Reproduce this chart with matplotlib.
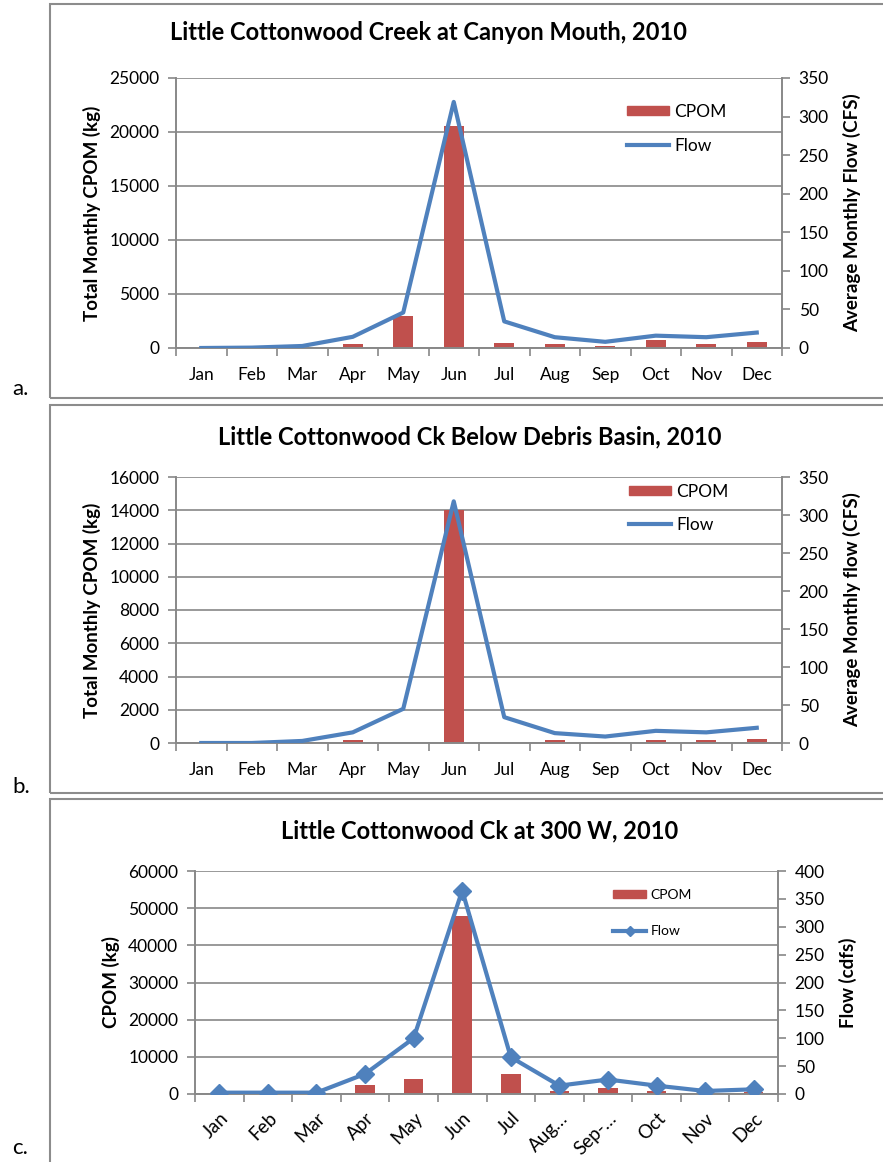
import matplotlib.pyplot as plt
from matplotlib.patches import Rectangle
from matplotlib.lines import Line2D
from matplotlib.ticker import MultipleLocator

plt.rcParams['font.family'] = ['Lato', 'DejaVu Sans']

# data
months = ["Jan", "Feb", "Mar", "Apr", "May", "Jun", "Jul", "Aug", "Sep", "Oct", "Nov", "Dec"]
months_c = ["Jan", "Feb", "Mar", "Apr", "May", "Jun", "Jul", "Aug…", "Sep-…", "Oct", "Nov", "Dec"]

cpom_a = [0, 0, 0, 400, 2950, 20550, 470, 370, 190, 750, 400, 600]
flow_a = [0, 0.5, 2.6, 14.5, 46, 319, 34.5, 14, 8, 16, 14, 20]

cpom_b = [0, 0, 0, 160, 0, 14000, 0, 160, 80, 200, 160, 260]
flow_b = [0, 0, 2.7, 14, 45, 318, 34, 13, 8.5, 16, 14, 20]

cpom_c = [0, 0, 0, 2430, 4050, 48000, 5500, 900, 1700, 800, 0, 540]
flow_c = [2.4, 2.4, 2.4, 36, 100, 365, 66, 15, 26, 15, 5.4, 8.4]

RED = "#C0504D"
BLUE = "#4F81BD"
GRID = "#888888"

W, H = 883, 1162
fig = plt.figure(figsize=(W / 100, H / 100), dpi=100)


def fx(px):
    return px / W


def fy(py):
    return 1 - py / H


# panel frames
for top, bot in [(4, 398), (405, 793), (799, 1175)]:
    fig.patches.append(Rectangle((fx(50), fy(bot)), fx(900 - 50), fy(top) - fy(bot),
                                 transform=fig.transFigure, fill=False,
                                 edgecolor="#8c8c8c", lw=1.5, zorder=0))

fig.text(fx(12), fy(389), "a.", fontsize=16, va="center")
fig.text(fx(12), fy(787), "b.", fontsize=16, va="center")
fig.text(fx(12), fy(1148), "c.", fontsize=16, va="center")


def panel(rect, cpom, flow, labels, ymax, ystep, y2max, title, title_xy, ylab, y2lab,
          leg_xy, leg_fs, leg_sp, marker=None, rot=0, fs=12.5, xfs=12.5):
    ax = fig.add_axes(rect)
    ax2 = ax.twinx()
    x = list(range(12))
    ax.bar(x, cpom, width=0.4, color=RED, zorder=2)
    ax2.plot(x, flow, color=BLUE, lw=3, marker=marker, markersize=9, zorder=3)
    ax.set_xlim(-0.5, 11.5)
    ax.set_ylim(0, ymax)
    ax2.set_ylim(0, y2max)
    ax.yaxis.set_major_locator(MultipleLocator(ystep))
    ax2.yaxis.set_major_locator(MultipleLocator(50))
    ax.grid(axis="y", color=GRID, lw=1.2, zorder=0)
    ax.set_axisbelow(True)
    ax.set_xticks(x)
    if rot:
        ax.set_xticklabels(labels, rotation=rot, ha="right", rotation_mode="anchor", fontsize=xfs)
        ax.tick_params(axis="x", which="major", length=0, pad=11)
    else:
        ax.set_xticklabels(labels, fontsize=xfs)
        ax.tick_params(axis="x", which="major", length=0, pad=14)
    ax.set_xticks([i + 0.5 for i in range(-1, 12)], minor=True)
    ax.tick_params(axis="x", which="minor", length=6, color=GRID, width=1.2)
    ax.tick_params(axis="y", length=6, color=GRID, width=1.2, labelsize=fs, pad=6)
    ax2.tick_params(axis="y", length=6, color=GRID, width=1.2, labelsize=fs, pad=6)
    for a in (ax, ax2):
        a.spines["top"].set_visible(False)
        for s in ("left", "right", "bottom"):
            a.spines[s].set_color(GRID)
            a.spines[s].set_linewidth(1.2)
    ax.set_ylabel(ylab, fontsize=13.5, fontweight="bold", labelpad=6)
    ax2.set_ylabel(y2lab, fontsize=13.5, fontweight="bold", labelpad=10)
    fig.text(title_xy[0], title_xy[1], title, fontsize=17, fontweight="bold",
             ha="center", va="center")
    handles = [Rectangle((0, 0), 1, 1, color=RED),
               Line2D([], [], color=BLUE, lw=3, marker=marker, markersize=5)]
    ax2.legend(handles, ["CPOM", "Flow"], loc="upper left", bbox_to_anchor=leg_xy,
               frameon=False, fontsize=leg_fs, handlelength=2.4, handleheight=0.5,
               labelspacing=leg_sp, borderaxespad=0, borderpad=0, handletextpad=0.3)
    return ax, ax2


panel([fx(176), fy(348), fx(782 - 176), fy(78) - fy(348)], cpom_a, flow_a, months,
      25000, 5000, 350, "Little Cottonwood Creek at Canyon Mouth, 2010", (fx(428), fy(32)),
      "Total Monthly CPOM (kg)", "Average Monthly Flow (CFS)", (0.745, 0.905), 12.5, 1.05)

panel([fx(176), fy(743), fx(782 - 176), fy(477) - fy(743)], cpom_b, flow_b, months,
      16000, 2000, 350, "Little Cottonwood Ck Below Debris Basin, 2010", (fx(470), fy(437)),
      "Total Monthly CPOM (kg)", "Average Monthly flow (CFS)", (0.748, 0.975), 12.5, 1.0)

panel([fx(195), fy(1094), fx(778 - 195), fy(871) - fy(1094)], cpom_c, flow_c, months_c,
      60000, 10000, 400, "Little Cottonwood Ck at 300 W, 2010", (fx(480), fy(831)),
      "CPOM (kg)", "Flow (cdfs)", (0.717, 0.92), 10, 1.75, marker="D", rot=45,
      fs=12.5, xfs=13.5)

fig.savefig("out.png", dpi=100)
